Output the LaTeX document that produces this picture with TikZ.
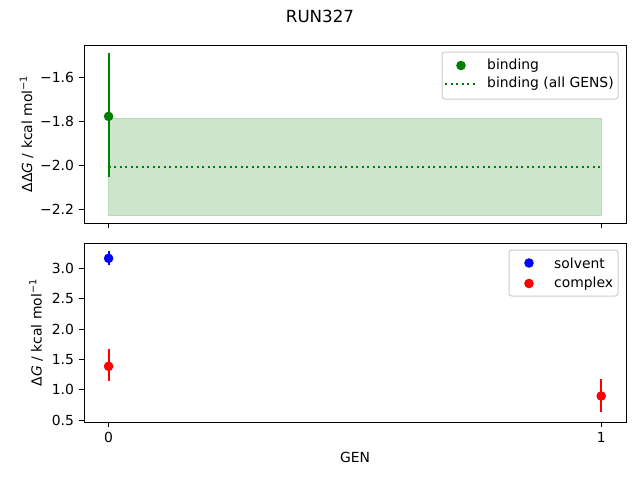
\documentclass[tikz,border=0pt]{standalone}
\usepackage{fontspec}
\setmainfont{DejaVu Sans}
\usetikzlibrary{positioning}

\definecolor{mplgreen}{RGB}{0,128,0}
\definecolor{mplblue}{RGB}{0,0,255}
\definecolor{mplred}{RGB}{255,0,0}

\tikzset{
  declare function={xg(\g)=108.6+\g*492.6; ytop(\v)=165-(\v+2)*220; ybot(\v)=420.3-(\v-0.5)*60.8;},
  spine/.style={line width=0.9pt, black},
  tickmark/.style={line width=0.9pt, black},
  ticklabel/.style={font=\fontsize{13.9}{16}\selectfont, inner sep=0pt},
  errbar/.style={line width=2.1pt},
  marker/.style={circle, inner sep=0pt, minimum size=9.6pt},
  legendbox/.style={draw=black!20, fill=white, rounded corners=2.8pt, line width=1pt},
  legendtext/.style={font=\fontsize{13.9}{16}\selectfont, inner sep=0pt, anchor=west},
}

\begin{document}
\begin{tikzpicture}[x=1pt, y=-1pt]
  \useasboundingbox (0,0) rectangle (640,480);

  % Title
  \node[font=\fontsize{16.7}{20}\selectfont] (title) at (320,16.5) {RUN327};

  % ---------- top panel: binding ----------
  % mean over all GENS with its band
  \fill[mplgreen!20] ({xg(0)},{ytop(-1.788)}) rectangle ({xg(1)},{ytop(-2.229)});
  \draw[mplgreen!28, line width=1pt] ({xg(0)},{ytop(-1.788)}) rectangle ({xg(1)},{ytop(-2.229)});
  \draw[mplgreen, line width=2.1pt, dash pattern=on 2.1pt off 3.4pt] ({xg(0)},{ytop(-2.009)}) -- ({xg(1)},{ytop(-2.009)});

  % binding at GEN 0
  \coordinate (bind-hi) at ({xg(0)},{ytop(-1.492)});
  \coordinate (bind-lo) at ({xg(0)},{ytop(-2.056)});
  \draw[errbar, mplgreen] (bind-hi) -- (bind-lo);
  \node[marker, fill=mplgreen] (bind-0) at ({xg(0)},{ytop(-1.779)}) {};

  % Axes frame
  \draw[spine] (84,45) rectangle (626,223);

  % y ticks
  \foreach \v/\t in {-1.6/−1.6, -1.8/−1.8, -2.0/−2.0, -2.2/−2.2}
  {
      \draw[tickmark] (84,{ytop(\v)}) -- (79.1,{ytop(\v)});
      \node[ticklabel, anchor=east] (Top-\t) at (74.2,{ytop(\v)}) {\t};
  }
  % x ticks (no labels)
  \foreach \g in {0,1}
  {
      \draw[tickmark] ({xg(\g)},223) -- ({xg(\g)},227.9);
  }

  \node[rotate=90, font=\fontsize{13.9}{16}\selectfont] (ylabel-top) at (26.5,134) {ΔΔ\textit{G} / kcal mol\textsuperscript{−1}};

  % Legend
  \draw[legendbox] (442,52) rectangle (618,99);
  \node[marker, fill=mplgreen] (leg-bind) at (461,65.5) {};
  \node[legendtext] (leg-bind-txt) at (487,65.5) {binding};
  \coordinate (leg-all-a) at (445,84);
  \coordinate (leg-all-b) at (475,84);
  \draw[mplgreen, line width=2.1pt, dash pattern=on 2.1pt off 3.4pt] (leg-all-a) -- (leg-all-b);
  \node[legendtext] (leg-all-txt) at (487,84) {binding (all GENS)};

  % ---------- bottom panel: solvent / complex ----------
  % solvent
  \coordinate (solv-hi) at ({xg(0)},{ybot(3.285)});
  \coordinate (solv-lo) at ({xg(0)},{ybot(3.06)});
  \draw[errbar, mplblue] (solv-hi) -- (solv-lo);
  \node[marker, fill=mplblue] (solv-0) at ({xg(0)},{ybot(3.164)}) {};

  % complex
  \foreach \g/\m/\lo/\hi in {0/1.388/1.141/1.673, 1/0.90/0.633/1.180}
  {
      \coordinate (cplx-hi-\g) at ({xg(\g)},{ybot(\hi)});
      \coordinate (cplx-lo-\g) at ({xg(\g)},{ybot(\lo)});
      \draw[errbar, mplred] (cplx-hi-\g) -- (cplx-lo-\g);
      \node[marker, fill=mplred] (cplx-\g) at ({xg(\g)},{ybot(\m)}) {};
  }

  % Axes frame
  \draw[spine] (84,243) rectangle (626,422);

  % y ticks
  \foreach \v in {0.5,1.0,1.5,2.0,2.5,3.0}
  {
      \draw[tickmark] (84,{ybot(\v)}) -- (79.1,{ybot(\v)});
      \node[ticklabel, anchor=east] (Bot-\v) at (74.2,{ybot(\v)}) {\v};
  }
  % x ticks
  \foreach \g in {0,1}
  {
      \draw[tickmark] ({xg(\g)},422) -- ({xg(\g)},426.9);
      \node[ticklabel, anchor=north] (Gen-\g) at ({xg(\g)},431.8) {\g};
  }

  \node[font=\fontsize{13.9}{16}\selectfont] (xlabel) at (355,457) {GEN};
  \node[rotate=90, font=\fontsize{13.9}{16}\selectfont] (ylabel-bot) at (36,332.5) {Δ\textit{G} / kcal mol\textsuperscript{−1}};

  % Legend
  \draw[legendbox] (509,250) rectangle (618,296);
  \node[marker, fill=mplblue] (leg-solv) at (529,263) {};
  \node[legendtext] (leg-solv-txt) at (554,263) {solvent};
  \node[marker, fill=mplred] (leg-cplx) at (529,283.5) {};
  \node[legendtext] (leg-cplx-txt) at (554,283.5) {complex};

\end{tikzpicture}
\end{document}
